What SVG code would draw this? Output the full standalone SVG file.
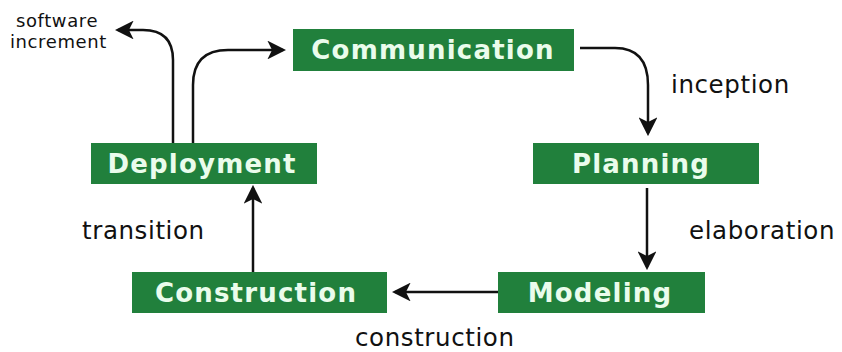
<svg xmlns="http://www.w3.org/2000/svg" width="842" height="352" viewBox="0 0 842 352">
<defs>
<style>
.box{fill:#21803c}
.bt{font-family:"DejaVu Sans",sans-serif;font-weight:bold;font-size:26px;letter-spacing:1.2px;fill:#eafcec;text-anchor:middle}
.lb{font-family:"DejaVu Sans",sans-serif;font-size:24.5px;letter-spacing:0.6px;fill:#111}
.sm{font-family:"DejaVu Sans",sans-serif;font-size:18px;letter-spacing:0.6px;fill:#111}
.ln{fill:none;stroke:#111;stroke-width:2.5}
</style>
<marker id="ah" viewBox="0 0 12 12" refX="10" refY="6" markerWidth="7.5" markerHeight="7.5" markerUnits="strokeWidth" orient="auto">
<path d="M0,0 L12,6 L0,12 L3,6 Z" fill="#111"/>
</marker>
</defs>
<rect width="842" height="352" fill="#fff"/>
<g id="connectors">
<path class="ln" d="M580,48 L615,48 Q648,48 648,85 L648,133" marker-end="url(#ah)"/>
<path class="ln" d="M647,188 L647,267" marker-end="url(#ah)"/>
<path class="ln" d="M498,292 L395,292" marker-end="url(#ah)"/>
<path class="ln" d="M253,272 L253,188" marker-end="url(#ah)"/>
<path class="ln" d="M193,143 L193,85 Q193,50 228,50 L283,50" marker-end="url(#ah)"/>
<path class="ln" d="M173,143 L173,60 Q173,30 143,30 L118,30" marker-end="url(#ah)"/>
</g>
<g id="communication"><rect class="box" x="293" y="29" width="281" height="42"/><text class="bt" x="433" y="59">Communication</text></g>
<g id="planning"><rect class="box" x="533" y="143" width="226" height="41"/><text class="bt" x="641" y="173">Planning</text></g>
<g id="modeling"><rect class="box" x="498" y="272" width="207" height="41"/><text class="bt" x="600" y="302">Modeling</text></g>
<g id="construction"><rect class="box" x="132" y="272" width="255" height="41"/><text class="bt" x="256" y="302">Construction</text></g>
<g id="deployment"><rect class="box" x="91" y="143" width="226" height="41"/><text class="bt" x="202" y="173">Deployment</text></g>
<g id="labels">
<text class="lb" x="671" y="93">inception</text>
<text class="lb" x="689" y="239">elaboration</text>
<text class="lb" x="82" y="239">transition</text>
<text class="lb" x="355" y="346">construction</text>
<text class="sm" x="16" y="27">software</text>
<text class="sm" x="10" y="48">increment</text>
</g>
</svg>
